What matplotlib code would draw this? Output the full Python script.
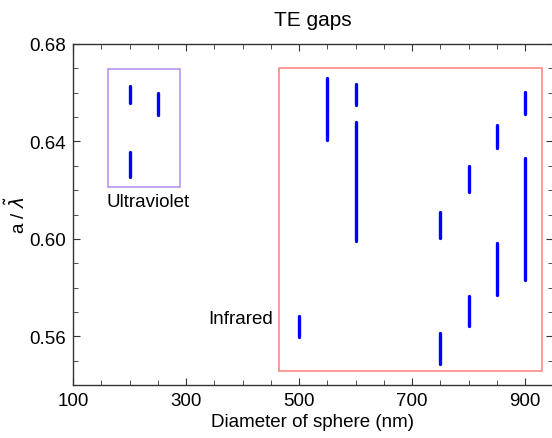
import matplotlib.pyplot as plt
from matplotlib.patches import Rectangle
from matplotlib.ticker import MultipleLocator

plt.rcParams['font.family'] = ['Liberation Sans', 'DejaVu Sans']

# gap segments: sphere diameter (nm), lower and upper edge of the gap (a/lambda)
uv_d = [200, 200, 250]
uv_lo = [0.6557, 0.6256, 0.6507]
uv_hi = [0.6627, 0.6355, 0.6598]

ir_d = [500, 550, 550, 600, 600, 750, 750, 800, 800, 850, 850, 900, 900]
ir_lo = [0.5596, 0.6495, 0.6404, 0.6548, 0.5990, 0.6004, 0.5485,
         0.6194, 0.5641, 0.6371, 0.5769, 0.6511, 0.5831]
ir_hi = [0.5683, 0.6660, 0.6495, 0.6635, 0.6478, 0.6111, 0.5612,
         0.6301, 0.5765, 0.6466, 0.5984, 0.6602, 0.6330]

x_labels = [100, 300, 500, 700, 900]
y_labels = [0.56, 0.60, 0.64, 0.68]

fig = plt.figure(figsize=(5.52, 4.39), dpi=100)
ax = fig.add_axes([0.1322, 0.1207, 0.8696, 0.7768])

ax.vlines(uv_d, uv_lo, uv_hi, colors='#0000ff', lw=2.4, capstyle='round')
ax.vlines(ir_d, ir_lo, ir_hi, colors='#0000ff', lw=2.4, capstyle='round')

# boxes grouping the two regions
ax.add_patch(Rectangle((162, 0.6214), 127, 0.0483, fill=False,
                       ec='#b48cf0', lw=1.1))
ax.add_patch(Rectangle((465, 0.5456), 465, 0.1245, fill=False,
                       ec='#ff8080', lw=1.1))
ax.text(233, 0.6190, 'Ultraviolet', ha='center', va='top', fontsize=13.5)
ax.text(396, 0.5674, 'Infrared', ha='center', va='center', fontsize=13.5)

ax.set_xlim(100, 949)
ax.set_ylim(0.54, 0.68)
ax.set_xticks(x_labels)
ax.set_xticklabels([str(v) for v in x_labels])
ax.xaxis.set_minor_locator(MultipleLocator(50))
ax.set_yticks(y_labels)
ax.set_yticklabels(['%.2f' % v for v in y_labels])
ax.yaxis.set_minor_locator(MultipleLocator(0.01))
ax.tick_params(which='both', direction='in', top=True, right=True,
               labelsize=13.5, color='#333333')
ax.tick_params(which='major', length=5, pad=5)
ax.tick_params(which='minor', length=3.5)
for s in ax.spines.values():
    s.set_color('#333333')
    s.set_linewidth(1.0)

ax.set_title('TE gaps', fontsize=15, pad=14)
ax.set_xlabel('Diameter of sphere (nm)', fontsize=13.5, labelpad=3)
ax.set_ylabel('a / $\\tilde{\\lambda}$', fontsize=13.5, labelpad=0)

fig.savefig('out.png', dpi=100)
